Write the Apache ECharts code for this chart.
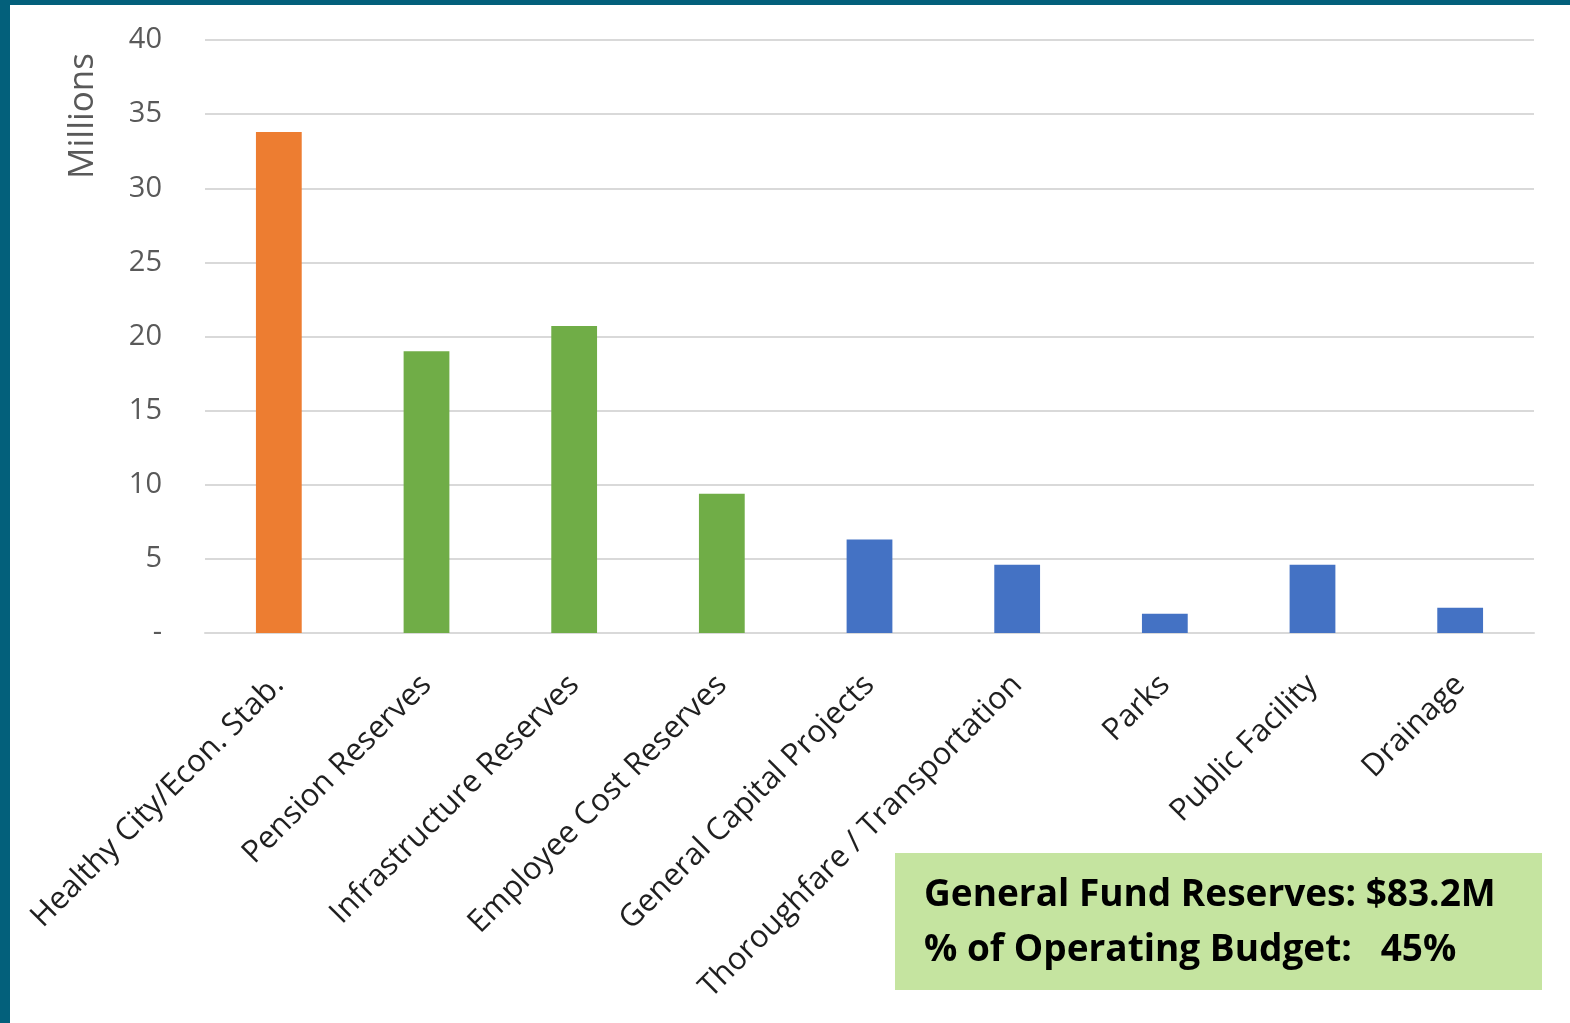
<!DOCTYPE html>
<html>
<head>
<meta charset="utf-8">
<script src="https://cdn.jsdelivr.net/npm/echarts@6/dist/echarts.min.js"></script>
<style>
  html, body { margin: 0; padding: 0; background: #03607b; width: 1570px; height: 1023px; overflow: hidden; }
  #chart { position: absolute; left: 10px; top: 5px; width: 1560px; height: 1018px; background: #ffffff; }
</style>
</head>
<body>
<div id="chart"></div>
<script>
var categories = ['Healthy City/Econ. Stab.', 'Pension Reserves', 'Infrastructure Reserves', 'Employee Cost Reserves',
	'General Capital Projects', 'Thoroughfare / Transportation', 'Parks', 'Public Facility', 'Drainage'];
var reserves = [33.8, 19.0, 20.7, 9.4, 6.3, 4.6, 1.3, 4.6, 1.7];
var barColors = ['#ed7d31', '#70ad47', '#70ad47', '#70ad47', '#4472c4', '#4472c4', '#4472c4', '#4472c4', '#4472c4'];
var yTicks = [0, 5, 10, 15, 20, 25, 30, 35, 40];
var noteLines = ['General Fund Reserves: $83.2M', '% of Operating Budget:   45%'];

var chart = echarts.init(document.getElementById('chart'));

var data = [];
for (var i = 0; i < reserves.length; i++) {
	data.push({ value: reserves[i], itemStyle: { color: barColors[i] } });
}

var option = {
	animation: false,
	grid: { left: 195, right: 36, top: 35, bottom: 390, containLabel: false },
	xAxis: {
		type: 'category',
		data: categories,
		axisLine: { lineStyle: { color: '#d9d9d9', width: 2 } },
		axisTick: { show: false },
		axisLabel: {
			interval: 0,
			rotate: 45,
			margin: 47,
			fontFamily: 'Open Sans',
			fontSize: 31,
			color: '#1f1f1f'
		}
	},
	yAxis: {
		type: 'value',
		min: yTicks[0],
		max: yTicks[yTicks.length - 1],
		interval: 5,
		axisLine: { show: false },
		axisTick: { show: false },
		splitLine: { lineStyle: { color: '#d9d9d9', width: 2 } },
		axisLabel: {
			margin: 43,
			fontFamily: 'Open Sans',
			fontSize: 29,
			color: '#595959',
			formatter: function(v) { return v === 0 ? '-' : String(v); }
		}
	},
	graphic: [
		{
			type: 'text',
			x: 73, y: 111,
			rotation: Math.PI / 2,
			style: {
				text: 'Millions',
				fontFamily: 'Open Sans',
				fontSize: 35,
				fill: '#595959',
				align: 'center',
				verticalAlign: 'middle'
			}
		},
		{
			type: 'rect',
			shape: { x: 885, y: 848, width: 647, height: 137 },
			style: { fill: '#c5e4a0' }
		},
		{
			type: 'text',
			x: 914, y: 890,
			style: {
				text: noteLines[0],
				fontFamily: 'Open Sans',
				fontWeight: 'bold',
				fontSize: 37,
				fill: '#000000',
				verticalAlign: 'middle'
			}
		},
		{
			type: 'text',
			x: 914, y: 945,
			style: {
				text: noteLines[1],
				fontFamily: 'Open Sans',
				fontWeight: 'bold',
				fontSize: 37,
				fill: '#000000',
				verticalAlign: 'middle'
			}
		}
	],
	series: [{
		type: 'bar',
		data: data,
		barWidth: '31%'
	}]
};

chart.setOption(option);
</script>
</body>
</html>
